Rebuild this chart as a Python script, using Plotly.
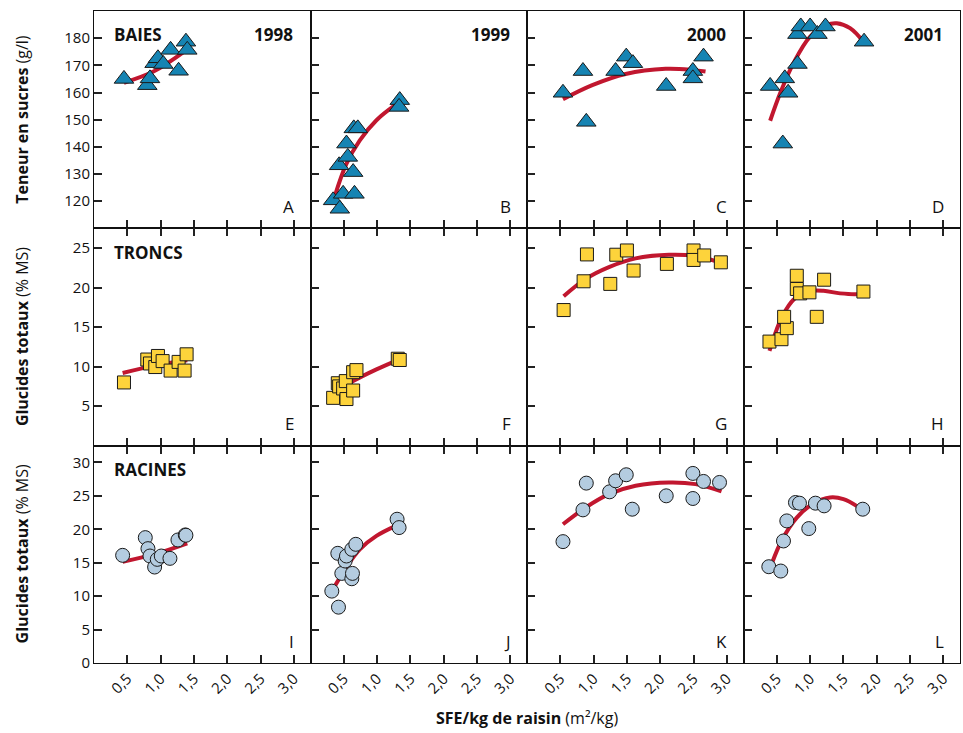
import plotly.graph_objects as go
from plotly.subplots import make_subplots

# ---------------- data ----------------
years = ["1998", "1999", "2000", "2001"]
row_names = ["BAIES", "TRONCS", "RACINES"]
panel_letters = ["A", "B", "C", "D", "E", "F", "G", "H", "I", "J", "K", "L"]
x_tick_vals = [0.5, 1.0, 1.5, 2.0, 2.5, 3.0]
x_tick_text = ["0,5", "1,0", "1,5", "2,0", "2,5", "3,0"]

# Row 1 : BAIES (sugar content g/l)
A_x = [0.45, 0.80, 0.84, 0.91, 0.96, 1.04, 1.15, 1.27, 1.38, 1.40]
A_y = [165.0, 162.7, 165.2, 170.8, 172.6, 170.5, 175.7, 168.0, 178.7, 175.7]
A_fx = [0.45, 0.90, 1.38]
A_fy = [163.6, 167.8, 175.5]

B_x = [0.34, 0.44, 0.43, 0.49, 0.54, 0.56, 0.64, 0.66, 0.65, 0.71, 1.34, 1.33]
B_y = [120.3, 117.2, 133.2, 122.7, 141.2, 136.3, 130.7, 122.7, 146.8, 146.8, 157.2, 154.7]
B_fx = [0.36, 0.54, 0.74, 0.99, 1.28]
B_fy = [121.5, 133.8, 142.4, 149.8, 155.5]

C_x = [0.54, 0.84, 0.89, 1.33, 1.49, 1.59, 2.09, 2.49, 2.49, 2.65]
C_y = [159.9, 167.9, 149.2, 167.9, 173.2, 170.8, 162.4, 167.9, 165.2, 173.2]
C_fx = [0.54, 0.98, 1.48, 2.08, 2.48, 2.68]
C_fy = [157.5, 162.7, 166.8, 168.7, 168.3, 167.7]

D_x = [0.40, 0.59, 0.62, 0.67, 0.81, 0.81, 0.86, 1.00, 1.11, 1.23, 1.81]
D_y = [162.4, 141.2, 165.2, 159.9, 170.5, 181.5, 184.3, 184.3, 181.5, 184.3, 178.7]
D_fx = [0.40, 0.55, 0.75, 1.00, 1.25, 1.40, 1.60, 1.80]
D_fy = [149.6, 159.7, 170.8, 180.6, 184.9, 185.5, 183.7, 178.7]

# Row 2 : TRONCS (total carbohydrates % DM)
E_x = [0.45, 0.80, 0.84, 0.92, 0.96, 1.03, 1.15, 1.27, 1.39, 1.36]
E_y = [8.0, 10.9, 10.4, 9.95, 11.35, 10.7, 9.5, 10.6, 11.56, 9.5]
E_fx = [0.43, 0.90, 1.40]
E_fy = [9.2, 10.1, 10.8]

F_x = [0.34, 0.41, 0.43, 0.49, 0.53, 0.54, 0.64, 0.64, 0.69, 1.31, 1.34]
F_y = [6.05, 7.9, 7.5, 7.24, 8.17, 5.9, 6.98, 9.3, 9.56, 11.0, 10.84]
F_fx = [0.32, 0.64, 0.99, 1.30]
F_fy = [6.5, 8.17, 9.65, 10.8]

G_x = [0.55, 0.85, 0.90, 1.25, 1.34, 1.50, 1.60, 2.10, 2.50, 2.50, 2.66, 2.91]
G_y = [17.16, 20.8, 24.2, 20.47, 24.16, 24.7, 22.16, 23.0, 24.7, 23.5, 24.07, 23.2]
G_fx = [0.55, 0.88, 1.23, 1.63, 2.13, 2.53, 2.83]
G_fy = [18.9, 21.1, 22.6, 23.7, 24.16, 24.0, 23.35]

H_x = [0.39, 0.57, 0.65, 0.61, 0.80, 0.80, 0.85, 0.99, 1.10, 1.21, 1.80]
H_y = [13.17, 13.47, 14.87, 16.3, 21.5, 19.83, 19.27, 19.4, 16.3, 21.0, 19.5]
H_fx = [0.39, 0.50, 0.60, 0.75, 0.95, 1.20, 1.45, 1.75, 1.83]
H_fy = [12.0, 14.74, 16.65, 18.47, 19.5, 19.6, 19.27, 19.2, 19.4]

# Row 3 : RACINES (total carbohydrates % DM)
I_x = [0.43, 0.77, 0.81, 0.84, 0.91, 0.95, 1.01, 1.14, 1.26, 1.37, 1.38]
I_y = [16.1, 18.75, 17.1, 16.0, 14.35, 15.5, 16.0, 15.65, 18.4, 19.15, 19.1]
I_fx = [0.43, 0.90, 1.40]
I_fy = [15.15, 16.25, 17.9]

J_x = [0.32, 0.42, 0.41, 0.47, 0.52, 0.54, 0.62, 0.63, 0.62, 0.68, 1.30, 1.33]
J_y = [10.75, 8.35, 16.4, 13.4, 15.25, 16.0, 12.6, 13.4, 17.0, 17.75, 21.5, 20.25]
J_fx = [0.35, 0.54, 0.74, 0.99, 1.28]
J_fy = [11.25, 14.35, 17.0, 19.0, 20.5]

K_x = [0.54, 0.84, 0.89, 1.24, 1.33, 1.49, 1.58, 2.09, 2.49, 2.49, 2.65, 2.89]
K_y = [18.15, 22.9, 26.9, 25.6, 27.25, 28.15, 23.0, 25.0, 28.35, 24.6, 27.15, 27.0]
K_fx = [0.54, 0.88, 1.23, 1.63, 2.13, 2.53, 2.92]
K_fy = [20.75, 23.25, 25.25, 26.5, 27.0, 26.75, 25.65]

L_x = [0.38, 0.56, 0.60, 0.65, 0.78, 0.84, 0.98, 1.08, 1.21, 1.79]
L_y = [14.4, 13.75, 18.25, 21.25, 24.0, 23.9, 20.1, 23.9, 23.5, 23.0]
L_fx = [0.43, 0.57, 0.80, 1.05, 1.30, 1.50, 1.72]
L_fy = [15.0, 18.25, 21.75, 23.85, 24.75, 24.5, 23.35]

points = [[(A_x, A_y), (B_x, B_y), (C_x, C_y), (D_x, D_y)],
          [(E_x, E_y), (F_x, F_y), (G_x, G_y), (H_x, H_y)],
          [(I_x, I_y), (J_x, J_y), (K_x, K_y), (L_x, L_y)]]
fits = [[(A_fx, A_fy), (B_fx, B_fy), (C_fx, C_fy), (D_fx, D_fy)],
        [(E_fx, E_fy), (F_fx, F_fy), (G_fx, G_fy), (H_fx, H_fy)],
        [(I_fx, I_fy), (J_fx, J_fy), (K_fx, K_fy), (L_fx, L_fy)]]

# ---------------- styles ----------------
FONT = "Open Sans"
CURVE = "#C1172F"
marker_styles = [
    dict(symbol="triangle-up", size=17, color="#1684B3", line=dict(color="#1a1a1a", width=1)),
    dict(symbol="square", size=13, color="#FDD33B", line=dict(color="#1a1a1a", width=1)),
    dict(symbol="circle", size=14, color="#B4CCE0", line=dict(color="#1a1a1a", width=1)),
]
y_ranges = [[110, 190], [0, 27.5], [0, 32.5]]
y_ticks = [[120, 130, 140, 150, 160, 170, 180], [5, 10, 15, 20, 25], [0, 5, 10, 15, 20, 25, 30]]

fig = make_subplots(rows=3, cols=4, horizontal_spacing=0, vertical_spacing=0,
                    shared_xaxes=False, shared_yaxes=False)

for r in range(3):
    for c in range(4):
        fx, fy = fits[r][c]
        fig.add_trace(go.Scatter(x=fx, y=fy, mode="lines",
                                 line=dict(color=CURVE, width=4, shape="spline", smoothing=1.0),
                                 showlegend=False, hoverinfo="skip"), row=r + 1, col=c + 1)
        px, py = points[r][c]
        fig.add_trace(go.Scatter(x=px, y=py, mode="markers", marker=marker_styles[r],
                                 showlegend=False), row=r + 1, col=c + 1)
        fig.update_xaxes(range=[0, 3.25], tickvals=x_tick_vals, ticktext=x_tick_text,
                         ticks="inside", ticklen=8, tickwidth=1.5, tickcolor="#222",
                         showline=True, linecolor="#111", linewidth=1,
                         mirror=("ticks" if r > 0 else True),
                         showgrid=False, zeroline=False,
                         showticklabels=(r == 2), tickangle=-45,
                         tickfont=dict(family=FONT, size=15, color="#111"),
                         row=r + 1, col=c + 1)
        fig.update_yaxes(range=y_ranges[r], tickvals=y_ticks[r],
                         ticks="inside", ticklen=8, tickwidth=1.5, tickcolor="#222",
                         showline=True, linecolor="#111", linewidth=1, mirror=True,
                         showgrid=False, zeroline=False,
                         showticklabels=(c == 0),
                         tickfont=dict(family=FONT, size=15, color="#111"),
                         row=r + 1, col=c + 1)

annotations = []
idx = 0
for r in range(3):
    for c in range(4):
        n = r * 4 + c + 1
        xr = "x" if n == 1 else f"x{n}"
        yr = "y" if n == 1 else f"y{n}"
        annotations.append(dict(text=panel_letters[idx], xref=f"{xr} domain", yref=f"{yr} domain",
                                x=0.935, y=0.10, xanchor="right", yanchor="middle", showarrow=False,
                                font=dict(family=FONT, size=17, color="#111")))
        idx += 1
        if r == 0:
            annotations.append(dict(text=f"<b>{years[c]}</b>", xref=f"{xr} domain", yref=f"{yr} domain",
                                    x=0.93, y=0.89, xanchor="right", yanchor="middle", showarrow=False,
                                    font=dict(family=FONT, size=17, color="#111")))
        if c == 0:
            annotations.append(dict(text=f"<b>{row_names[r]}</b>", xref=f"{xr} domain", yref=f"{yr} domain",
                                    x=0.085, y=0.89, xanchor="left", yanchor="middle", showarrow=False,
                                    font=dict(family=FONT, size=17, color="#111")))

# axis titles
annotations.append(dict(text="<b>Teneur en sucres</b> (g/l)", xref="paper", yref="y domain",
                        x=-0.083, y=0.5, textangle=-90, showarrow=False, xanchor="center", yanchor="middle",
                        font=dict(family=FONT, size=16, color="#111")))
annotations.append(dict(text="<b>Glucides totaux</b> (% MS)", xref="paper", yref="y5 domain",
                        x=-0.083, y=0.5, textangle=-90, showarrow=False, xanchor="center", yanchor="middle",
                        font=dict(family=FONT, size=16, color="#111")))
annotations.append(dict(text="<b>Glucides totaux</b> (% MS)", xref="paper", yref="y9 domain",
                        x=-0.083, y=0.5, textangle=-90, showarrow=False, xanchor="center", yanchor="middle",
                        font=dict(family=FONT, size=16, color="#111")))
annotations.append(dict(text="<b>SFE/kg de raisin</b> (m²/kg)", xref="paper", yref="paper",
                        x=0.5, y=-0.084, showarrow=False, xanchor="center", yanchor="middle",
                        font=dict(family=FONT, size=16, color="#111")))

fig.update_layout(width=963, height=733, margin=dict(l=94, r=3, t=11, b=70),
                  paper_bgcolor="white", plot_bgcolor="white",
                  annotations=annotations, font=dict(family=FONT))

fig.write_html("out.html")
